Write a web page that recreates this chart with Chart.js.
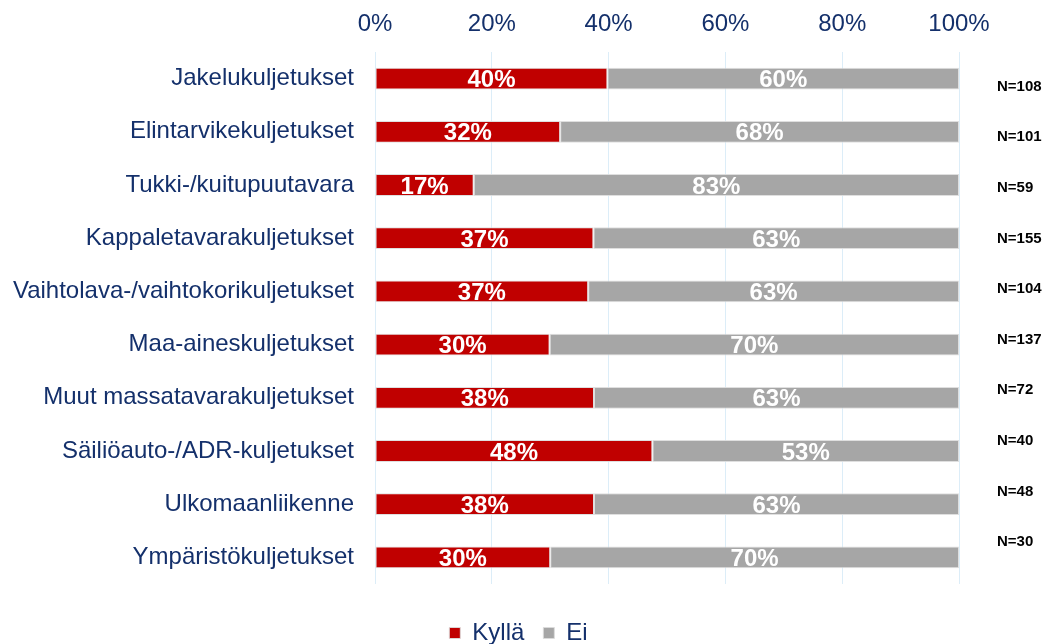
<!DOCTYPE html>
<html>
<head>
<meta charset="utf-8">
<script src="https://cdn.jsdelivr.net/npm/chart.js@4.4.1/dist/chart.umd.min.js"></script>
<style>
    body { margin: 0; background: #fff; }
    #wrap { width: 1048px; height: 644px; }
</style>
</head>
<body>
<div id="wrap"><canvas id="kuljetusChart" width="1048" height="644"></canvas></div>
<script>
const kategoriat = [
    'Jakelukuljetukset',
    'Elintarvikekuljetukset',
    'Tukki-/kuitupuutavara',
    'Kappaletavarakuljetukset',
    'Vaihtolava-/vaihtokorikuljetukset',
    'Maa-aineskuljetukset',
    'Muut massatavarakuljetukset',
    'Säiliöauto-/ADR-kuljetukset',
    'Ulkomaanliikenne',
    'Ympäristökuljetukset'
];

const kylla = [39.8, 31.7, 16.9, 37.4, 36.5, 29.9, 37.5, 47.5, 37.5, 30.0];
const ei = [60.2, 68.3, 83.1, 62.6, 63.5, 70.1, 62.5, 52.5, 62.5, 70.0];
const kyllaTekstit = ['40%', '32%', '17%', '37%', '37%', '30%', '38%', '48%', '38%', '30%'];
const eiTekstit = ['60%', '68%', '83%', '63%', '63%', '70%', '63%', '53%', '63%', '70%'];
const vastaajat = [108, 101, 59, 155, 104, 137, 72, 40, 48, 30];
const akseliTicks = [0, 20, 40, 60, 80, 100];

const navy = '#14306b';
const fontti = '"Liberation Sans", Arial, sans-serif';

// prosenttitekstit palkkien sisään
const palkkiTekstit = {
    id: 'palkkiTekstit',
    afterDatasetsDraw(chart) {
        const ctx = chart.ctx;
        ctx.save();
        ctx.font = 'bold 24px ' + fontti;
        ctx.fillStyle = '#ffffff';
        ctx.textAlign = 'center';
        ctx.textBaseline = 'middle';
        chart.data.datasets.forEach((ds, di) => {
            const meta = chart.getDatasetMeta(di);
            meta.data.forEach((bar, i) => {
                const p = bar.getProps(['x', 'y', 'base'], true);
                ctx.fillText(ds.tekstit[i], (p.x + p.base) / 2, p.y + 2);
            });
        });
        ctx.restore();
    }
};

// N= tekstit oikealle
const nTekstit = {
    id: 'nTekstit',
    afterDraw(chart) {
        const ctx = chart.ctx;
        const yScale = chart.scales.y;
        ctx.save();
        ctx.font = 'bold 15px ' + fontti;
        ctx.fillStyle = '#000000';
        ctx.textAlign = 'left';
        ctx.textBaseline = 'middle';
        vastaajat.forEach((n, i) => {
            const siirto = 0.15 - 0.0485 * i;
            ctx.fillText('N=' + n, chart.chartArea.right + 38, yScale.getPixelForValue(i + siirto));
        });
        ctx.restore();
    }
};

// selite matalaksi ja hieman siirrettynä kuten alkuperäisessä
const seliteSiirto = {
    id: 'seliteSiirto',
    afterInit(chart) {
        const legend = chart.legend;
        const origFit = legend.fit;
        const origDraw = legend.draw;
        legend.fit = function () {
            origFit.call(this);
            this.height = 60;
        };
        legend.draw = function () {
            const c = this.ctx;
            c.save();
            c.translate(37, 18);
            origDraw.call(this);
            c.restore();
        };
    }
};

const ctx = document.getElementById('kuljetusChart').getContext('2d');
new Chart(ctx, {
    type: 'bar',
    data: {
        labels: kategoriat,
        datasets: [{
            label: 'Kyllä',
            data: kylla,
            tekstit: kyllaTekstit,
            backgroundColor: '#c00000',
            borderColor: 'rgba(220, 220, 220, 0.9)',
            borderWidth: 1,
            borderSkipped: false,
            barPercentage: 0.41,
            categoryPercentage: 1
        }, {
            label: 'Ei',
            data: ei,
            tekstit: eiTekstit,
            backgroundColor: '#a6a6a6',
            borderColor: 'rgba(220, 220, 220, 0.9)',
            borderWidth: 1,
            borderSkipped: false,
            barPercentage: 0.41,
            categoryPercentage: 1
        }]
    },
    options: {
        indexAxis: 'y',
        responsive: false,
        animation: false,
        layout: {
            padding: { top: 0, right: 89, left: 4, bottom: 0 }
        },
        plugins: {
            legend: {
                position: 'bottom',
                labels: {
                    color: navy,
                    font: { size: 24, family: fontti },
                    boxWidth: 11,
                    boxHeight: 11,
                    padding: 19
                }
            },
            tooltip: { enabled: false }
        },
        scales: {
            x: {
                position: 'top',
                stacked: true,
                min: 0,
                max: 100,
                afterBuildTicks: scale => {
                    scale.ticks = akseliTicks.map(v => ({ value: v }));
                },
                afterFit: scale => {
                    scale.height = 52;
                },
                ticks: {
                    color: navy,
                    padding: 13,
                    font: { size: 24, family: fontti },
                    callback: v => v + '%'
                },
                grid: {
                    color: '#dcedf8',
                    drawTicks: false
                },
                border: { display: false }
            },
            y: {
                stacked: true,
                afterFit: scale => {
                    scale.width = 371;
                },
                ticks: {
                    color: navy,
                    padding: 13,
                    font: { size: 24, family: fontti }
                },
                grid: { display: false },
                border: { display: false }
            }
        }
    },
    plugins: [palkkiTekstit, nTekstit, seliteSiirto]
});
</script>
</body>
</html>
